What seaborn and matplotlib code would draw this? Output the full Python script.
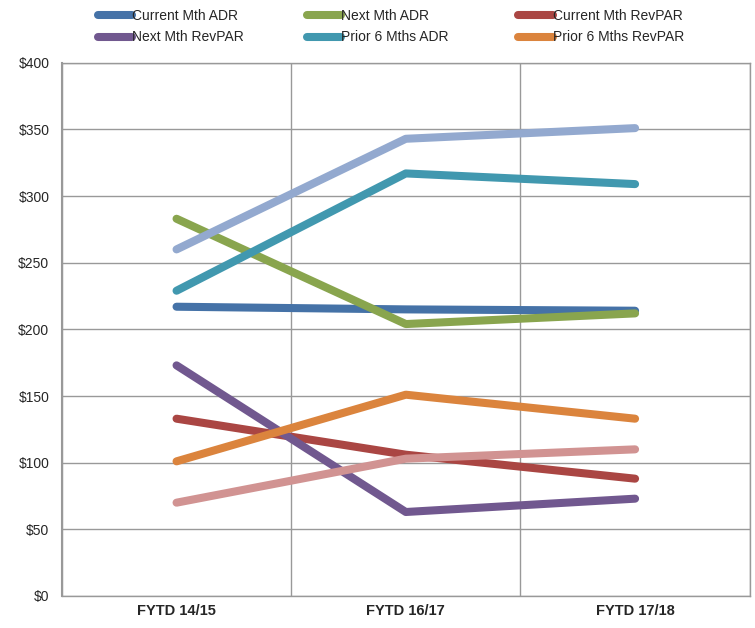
import numpy as np
import pandas as pd
import matplotlib
matplotlib.use("Agg")
import matplotlib.pyplot as plt
import seaborn as sns
from matplotlib.ticker import FuncFormatter

# Data
periods = ["FYTD 14/15", "FYTD 16/17", "FYTD 17/18"]
series_names = ["Current Mth ADR", "Next Mth ADR", "Current Mth RevPAR",
                "Next Mth RevPAR", "Prior 6 Mths ADR", "Prior 6 Mths RevPAR",
                "Series 7", "Series 8"]
current_mth_adr = [217, 215, 214]
next_mth_adr = [283, 204, 212]
current_mth_revpar = [133, 106, 88]
next_mth_revpar = [173, 63, 73]
prior6_adr = [229, 317, 309]
prior6_revpar = [101, 151, 133]
series7 = [260, 343, 351]
series8 = [70, 103, 110]
colors = ["#4572A7", "#89A54E", "#AA4643", "#71588F",
          "#4198AF", "#DB843D", "#93A9CF", "#D19392"]

all_values = [current_mth_adr, next_mth_adr, current_mth_revpar, next_mth_revpar,
              prior6_adr, prior6_revpar, series7, series8]

rows = []
for name, vals in zip(series_names, all_values):
    for i, v in enumerate(vals):
        rows.append({"x": i, "period": periods[i], "series": name, "value": v})
df = pd.DataFrame(rows)

sns.set_style("white")
plt.rcParams["font.family"] = ["Liberation Sans", "DejaVu Sans"]

fig = plt.figure(figsize=(7.55, 6.28), dpi=100)
ax = fig.add_axes([0.082, 0.051, 0.911, 0.849])

sns.lineplot(data=df, x="x", y="value", hue="series", hue_order=series_names,
             palette=colors, linewidth=5.8, ax=ax, legend=False, zorder=3)
for line in ax.get_lines():
    line.set_solid_capstyle("round")

ax.set_xlim(-0.5, 2.5)
ax.set_ylim(0, 400)
ax.set_yticks(np.arange(0, 401, 50))
ax.yaxis.set_major_formatter(FuncFormatter(lambda v, p: f"${int(v)}"))
ax.set_xticks([0, 1, 2])
ax.set_xticklabels(periods, fontweight="bold", fontsize=10.5)
ax.set_xticks([-0.5, 0.5, 1.5, 2.5], minor=True)
ax.tick_params(axis="x", which="major", length=0, pad=6)
ax.tick_params(axis="x", which="minor", length=5, color="#999999", direction="out")
ax.tick_params(axis="y", length=5, color="#999999", direction="out", labelsize=10, pad=4)
ax.set_xlabel("")
ax.set_ylabel("")

ax.grid(True, axis="y", color="#999999", linewidth=1)
ax.grid(True, axis="x", which="minor", color="#999999", linewidth=1)
ax.set_axisbelow(True)
for side in ["top", "bottom", "right"]:
    ax.spines[side].set_visible(True)
    ax.spines[side].set_color("#999999")
    ax.spines[side].set_linewidth(1)
ax.spines["left"].set_color("#999999")
ax.spines["left"].set_linewidth(1.5)

# legend: three equal-width columns, two rows, read row by row
col_x = [0.1295, 0.406, 0.686]
for c, x0 in enumerate(col_x):
    idx = [c, c + 3]
    handles = [plt.Line2D([0], [0], color=colors[i], linewidth=5.8, solid_capstyle="round")
               for i in idx]
    fig.legend(handles, [series_names[i] for i in idx], loc="upper left",
               bbox_to_anchor=(x0, 0.986), frameon=False, fontsize=10,
               handlelength=2.5, handletextpad=0.0, labelspacing=0.55,
               borderpad=0, borderaxespad=0)

fig.savefig("out.png", dpi=100)
